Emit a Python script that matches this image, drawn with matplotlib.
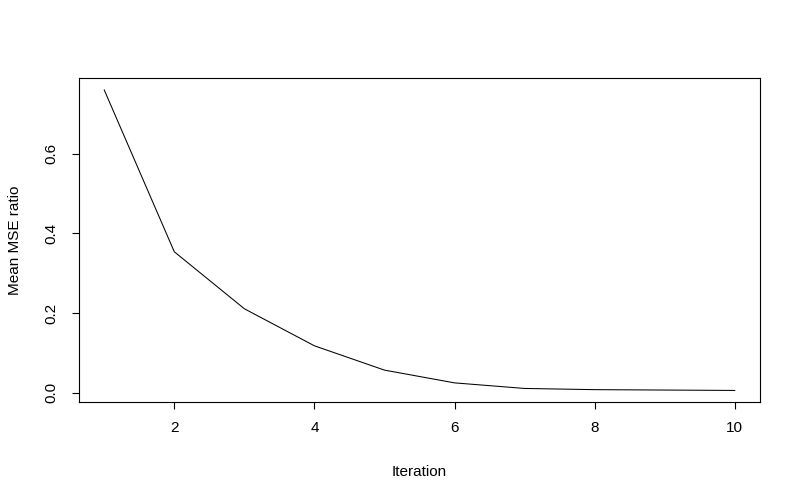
import matplotlib
matplotlib.use("Agg")
import matplotlib.pyplot as plt

iterations = [1, 2, 3, 4, 5, 6, 7, 8, 9, 10]
mse_ratio = [0.760, 0.354, 0.211, 0.118, 0.057, 0.025, 0.011, 0.008, 0.007, 0.006]
x_ticks = [2, 4, 6, 8, 10]
y_ticks = [0.0, 0.2, 0.4, 0.6]

plt.rcParams['font.family'] = ['Liberation Sans', 'DejaVu Sans']

fig = plt.figure(figsize=(8, 5), dpi=100)
ax = fig.add_axes([79/800, 98/500, 681/800, 324/500])
ax.plot(iterations, mse_ratio, color='black', linewidth=0.75)

ax.set_xlim(0.64, 10.36)
ax.set_ylim(-0.023, 0.790)
ax.set_xticks(x_ticks)
ax.set_yticks(y_ticks)
fs = 11
ax.set_xticklabels([str(t) for t in x_ticks], fontsize=fs)
ax.set_yticklabels([f"{t:.1f}" for t in y_ticks], fontsize=fs, rotation=90, va='center')
ax.tick_params(axis='both', direction='out', length=5, width=0.8, color='black')
ax.tick_params(axis='x', pad=9)
ax.tick_params(axis='y', pad=10)
for s in ax.spines.values():
    s.set_linewidth(0.8)
    s.set_color('black')

ax.set_xlabel('Iteration', fontsize=fs, labelpad=21)
ax.set_ylabel('Mean MSE ratio', fontsize=fs, labelpad=16)

fig.savefig('out.png', dpi=100)
